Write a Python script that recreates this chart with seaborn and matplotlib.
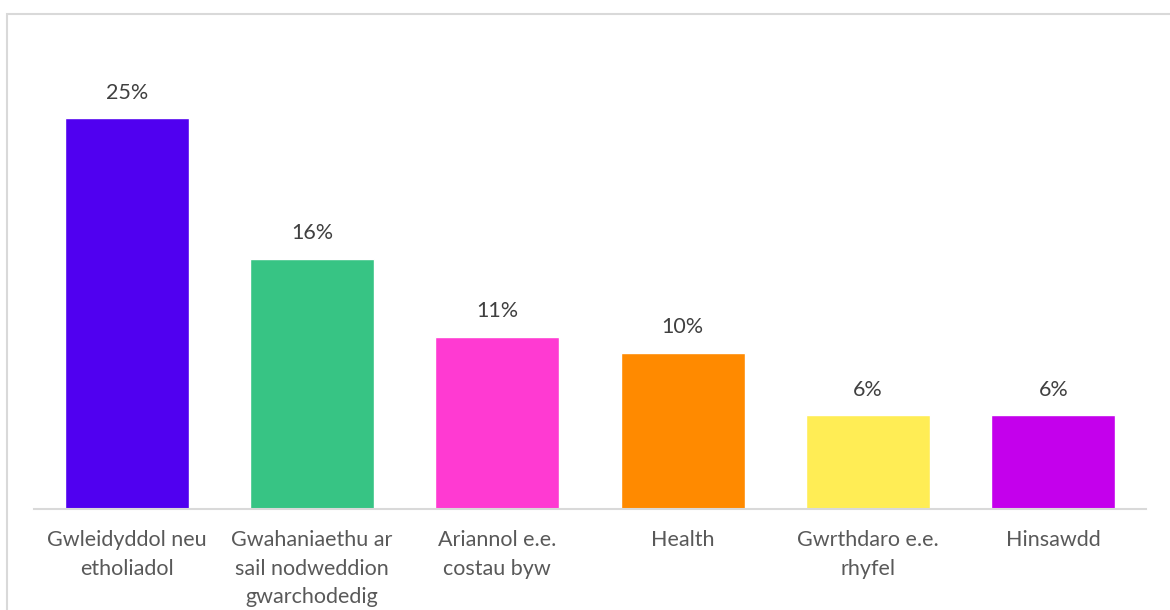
import matplotlib
matplotlib.use("Agg")
import matplotlib.pyplot as plt
import seaborn as sns
import pandas as pd
from matplotlib.patches import Rectangle

categories = [
    "Gwleidyddol neu\netholiadol",
    "Gwahaniaethu ar\nsail nodweddion\ngwarchodedig",
    "Ariannol e.e.\ncostau byw",
    "Health",
    "Gwrthdaro e.e.\nrhyfel",
    "Hinsawdd",
]
values = [25, 16, 11, 10, 6, 6]
colors = ["#5000F0", "#37C484", "#FF3AD2", "#FF8A00", "#FFED55", "#C400EC"]

df = pd.DataFrame({"category": categories, "value": values})

sns.set_style("white")
plt.rcParams["font.family"] = ["Lato", "DejaVu Sans"]

fig = plt.figure(figsize=(11.7, 6.1), dpi=100)
ax = fig.add_axes([34 / 1170, 101 / 610, 1112 / 1170, 469 / 610])

sns.barplot(data=df, x="category", y="value", hue="category", palette=colors,
            width=0.67, legend=False, ax=ax, saturation=1)

for i, v in enumerate(values):
    ax.text(i, v + 1.0, f"{v}%", ha="center", va="bottom", fontsize=15.5, color="#404040")

ax.set_xlim(-0.5, 5.5)
ax.set_ylim(0, 30)
ax.set_xlabel("")
ax.set_ylabel("")
ax.set_yticks([])
ax.tick_params(axis="x", length=0, pad=15, labelsize=15.5, labelcolor="#595959")
for lbl in ax.get_xticklabels():
    lbl.set_linespacing(1.55)
    lbl.set_verticalalignment("top")
for side in ["left", "right", "top"]:
    ax.spines[side].set_visible(False)
ax.spines["bottom"].set_color("#d9d9d9")
ax.spines["bottom"].set_linewidth(1.5)

# chart area border
fig.patches.append(Rectangle((7 / 1170, -0.1), 1.2, 0.1 + (610 - 14) / 610,
                             transform=fig.transFigure, fill=False,
                             edgecolor="#d9d9d9", linewidth=1.5))

fig.savefig("out.png", dpi=100)
